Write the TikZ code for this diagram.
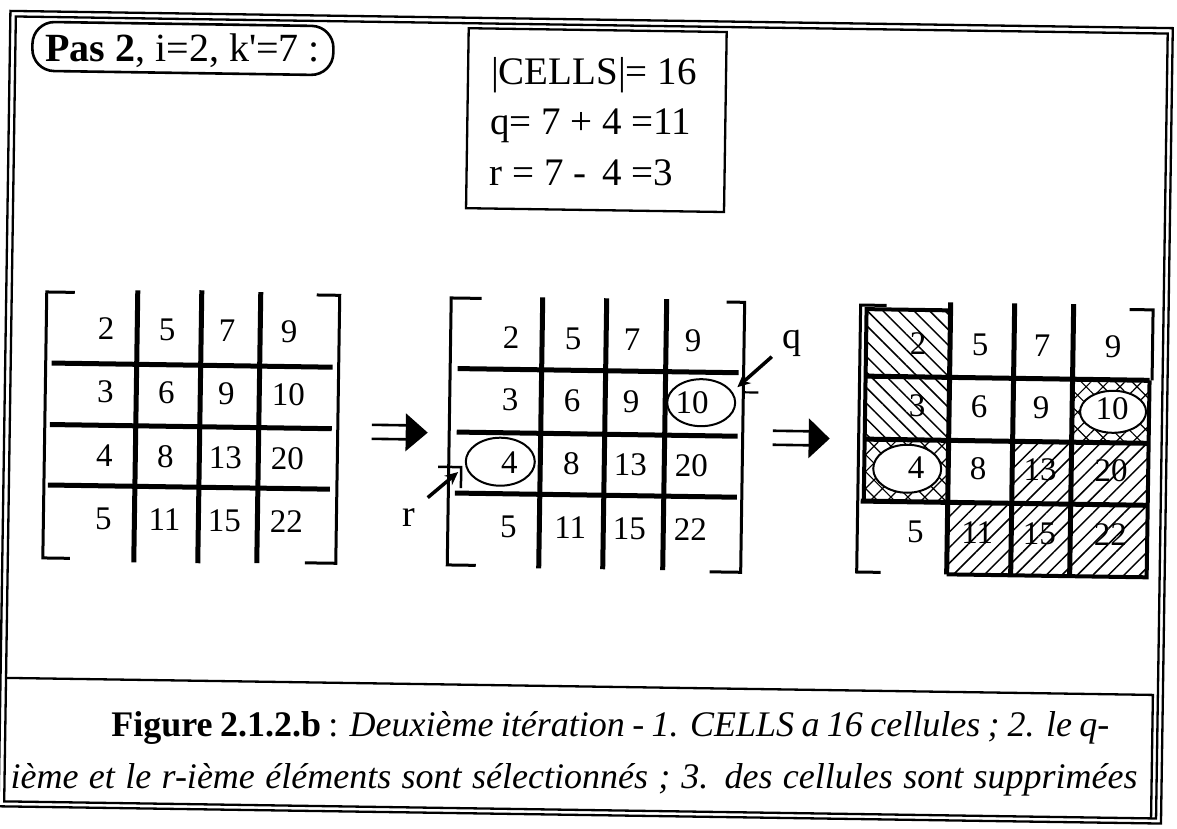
\documentclass[tikz,border=0pt]{standalone}
\usepackage{fontspec}
\setmainfont{Liberation Serif}[Ligatures=TeXOff]
\usetikzlibrary{patterns.meta,shapes.geometric,arrows.meta}
\begin{document}
\begin{tikzpicture}[x=1pt,y=-1pt,
  frm/.style={line width=2.3pt},
  sepl/.style={line width=5pt},
  brk/.style={line width=3pt},
  num/.style={inner sep=0pt, font=\fontsize{33}{38}\selectfont},
  txt/.style={inner sep=0pt, anchor=base west, font=\fontsize{39}{46}\selectfont},
  lab/.style={inner sep=0pt, font=\fontsize{38}{44}\selectfont},
  captxt/.style={inner sep=0pt, anchor=base west, font=\fontsize{36}{42}\selectfont},
  ell/.style={draw, ellipse, line width=2pt, inner sep=0pt},
  hbord/.style={line width=4pt},
  arr/.style={line width=3.5pt, -{Stealth[length=13pt,width=12pt]}},
  dbl/.style={line width=2.6pt},
  nwl/.style={pattern={Lines[angle=-45,distance=11pt,line width=1.5pt]}},
  nel/.style={pattern={Lines[angle=45,distance=11pt,line width=1.5pt]}},
  crh/.style={pattern={Hatch[angle=45,distance=12pt,line width=1.2pt]}}
]
\useasboundingbox (0,0) rectangle (1177,828);
\fill[white] (0,0) rectangle (1177,828);

\begin{scope}[rotate around={-0.85:(588,414)}]
% ---- outer double frame
\draw[frm] (4.5,19.5) rectangle (1167,815);
\draw[frm] (10,25) rectangle (1162,810);

% ---- header
\draw[line width=2.6pt, rounded corners=22pt] (27,30) rectangle (328,79);
\node[txt, font=\fontsize{40}{48}\selectfont] (pas) at (40,70) {\textbf{Pas 2}, i=2, k'=7 :};
\draw[frm] (463,30) rectangle (721,210);
\node[txt] (cells) at (486,86) {|CELLS|= 16};
\node[txt] (qeq) at (486,136) {q= 7 + 4 =11};
\node[txt] (req) at (486,187) {r = 7 - \,4 =3};

% ---- left matrix
\draw[brk] (73,300) -- (45,300) -- (45,566) -- (72,566);
\draw[brk] (315,299) -- (338,299) -- (338,567) -- (307,567);
\draw[sepl] (136,297) -- (136,569);
\draw[sepl] (200,296) -- (200,569);
\draw[sepl] (259,297) -- (259,568);
\draw[sepl] (51,371) -- (332,371);
\draw[sepl] (50,432.5) -- (332,432.5);
\draw[sepl] (49,493) -- (331,493);
\foreach \v [count=\i from 0] in {2,5,7,9,3,6,9,10,4,8,13,20,5,11,15,22}{
  \pgfmathtruncatemacro\cc{mod(\i,4)}
  \pgfmathtruncatemacro\rr{div(\i,4)}
  \pgfmathsetmacro\xx{{105,166,226,288}[\cc]}
  \pgfmathsetmacro\yy{{336,399,463,526}[\rr]}
  \node[num] (L\i) at (\xx,\yy) {\v};
}

% ---- first double arrow
\draw[dbl] (372,428) -- (410,428) (372,442) -- (410,442);
\fill (406,416) -- (428,435) -- (406,454) -- cycle;

% ---- middle matrix
\draw[brk] (480,300) -- (449.5,300) -- (449.5,567) -- (478,567);
\draw[brk] (725,300) -- (743,300) -- (743,570) -- (712,570);
\draw[sepl] (541,298) -- (541,569);
\draw[sepl] (605,298) -- (605,569);
\draw[sepl] (665,298) -- (665,569);
\draw[sepl] (457,370.5) -- (738,370.5);
\draw[sepl] (457,434) -- (738,434);
\draw[sepl] (456,495) -- (738,495);
\foreach \v [count=\i from 0] in {2,5,7,9,3,6,9,10,4,8,13,20,5,11,15,22}{
  \pgfmathtruncatemacro\cc{mod(\i,4)}
  \pgfmathtruncatemacro\rr{div(\i,4)}
  \pgfmathsetmacro\xx{{510,572,631,692}[\cc]}
  \pgfmathsetmacro\yy{{339,401,464,528}[\rr]}
  \node[num] (M\i) at (\xx,\yy) {\v};
}
\node[ell, minimum width=68pt, minimum height=47pt] (Mten) at (701,401) {};
\node[ell, minimum width=69pt, minimum height=48pt] (Mfour) at (501,463) {};
\node[lab] (qlab) at (791,340) {q};
\node[lab] (rlab) at (410,520) {r};
\coordinate (qs) at (771,354);
\coordinate (qe) at (737,385);
\coordinate (rs) at (429,500);
\coordinate (re) at (459,474);
\draw[arr] (qs) -- (qe);
\draw[arr] (rs) -- (re);
\draw[line width=2.2pt] (742,390) -- (758,390);
\draw[line width=2.5pt] (439,469) -- (462,469) -- (462,490);

% ---- second double arrow
\draw[dbl] (773,428) -- (812,428) (773,442) -- (812,442);
\fill (809,415) -- (830,435) -- (809,455) -- cycle;

% ---- right matrix
\fill[nwl] (865,305) rectangle (949,372);
\fill[nwl] (865,372) rectangle (949,435);
\fill[crh] (865,435) rectangle (949,497);
\fill[crh] (1072,372) rectangle (1149,435);
\fill[nel] (1013,435) rectangle (1072,497);
\fill[nel] (1072,435) rectangle (1149,497);
\fill[nel] (949,497) rectangle (1013,569);
\fill[nel] (1013,497) rectangle (1072,569);
\fill[nel] (1072,497) rectangle (1149,569);
\node[ell, fill=white, minimum width=66pt, minimum height=42pt] (Rten) at (1113,404) {};
\node[ell, fill=white, minimum width=68pt, minimum height=48pt] (Rfour) at (908,464) {};
\draw[brk] (885,301) -- (859,301) -- (859,568) -- (883,568);
\draw[brk] (1128,301.5) -- (1151.5,301.5) -- (1151.5,372);
\draw[hbord] (865,372) -- (865,305) -- (949,305);
\draw[hbord] (865,372) -- (865,497);
\draw[hbord] (1149,372) -- (1149,569) -- (949,569);
\draw[sepl] (949,297) -- (949,569);
\draw[sepl] (1013,297) -- (1013,569);
\draw[sepl] (1072,297) -- (1072,569);
\draw[sepl] (865,372) -- (1149,372);
\draw[sepl] (865,435) -- (1149,435);
\draw[sepl] (862,497) -- (1149,497);
\foreach \v [count=\i from 0] in {2,5,7,9,3,6,9,10,4,8,13,20,5,11,15,22}{
  \pgfmathtruncatemacro\cc{mod(\i,4)}
  \pgfmathtruncatemacro\rr{div(\i,4)}
  \pgfmathsetmacro\xx{{917,979,1041,1112}[\cc]}
  \pgfmathsetmacro\yy{{339,401,463,527}[\rr]}
  \node[num] (R\i) at (\xx,\yy) {\v};
}

% ---- caption
\draw[frm] (10,686.5) -- (1157,686.5) -- (1157,810);
\node[captxt] (cap1) at (116,744) {\makebox[998pt][s]{\textbf{Figure 2.1.2.b} : \textit{Deuxième itération - 1. CELLS a 16 cellules ; 2. le q-}}};
\node[captxt] (cap2) at (16,797) {\makebox[1127pt][s]{\itshape ième et le r-ième éléments sont sélectionnés ; 3. des cellules sont supprimées}};
\end{scope}
\end{tikzpicture}
\end{document}
